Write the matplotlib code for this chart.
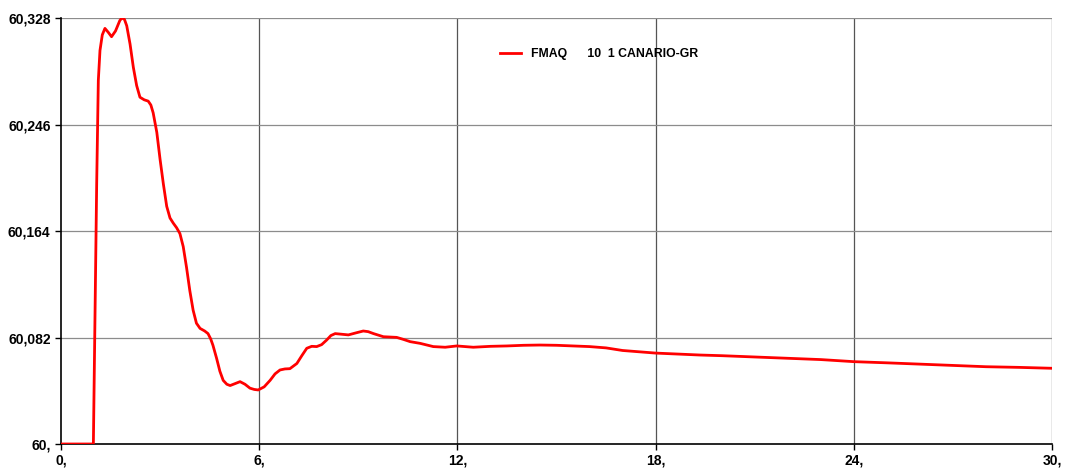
import matplotlib.pyplot as plt

plt.rcParams['font.family'] = ['Liberation Sans', 'DejaVu Sans']
plt.rcParams['font.weight'] = 'bold'

# Frequency trace (s, Hz)
t = [0.0, 0.98, 1.04, 1.08, 1.13, 1.18, 1.25, 1.33, 1.43, 1.53, 1.65, 1.78, 1.84,
     1.92, 1.99, 2.09, 2.19, 2.29, 2.39, 2.52, 2.64, 2.72, 2.79, 2.90, 3.0, 3.1,
     3.2, 3.3, 3.4, 3.5, 3.6, 3.7, 3.8, 3.9, 4.0, 4.1, 4.21, 4.35, 4.45, 4.53,
     4.6, 4.71, 4.81, 4.91, 5.02, 5.12, 5.27, 5.42, 5.57, 5.72, 5.85, 5.97, 6.15,
     6.33, 6.48, 6.63, 6.78, 6.93, 7.14, 7.29, 7.44, 7.59, 7.74, 7.89, 8.04, 8.17,
     8.30, 8.50, 8.70, 8.92, 9.15, 9.30, 9.46, 9.76, 10.16, 10.37, 10.57, 10.87,
     11.27, 11.63, 11.98, 12.48, 13.0, 13.5, 14.0, 14.5, 15.0, 15.5, 16.0, 16.5,
     17.0, 17.5, 18.0, 19.35, 20.0, 21.0, 22.0, 23.0, 24.0, 25.0, 26.0, 27.0, 28.0,
     29.0, 30.0]
freq = [60.0, 60.0, 60.120, 60.200, 60.280, 60.303, 60.315, 60.320, 60.317, 60.3136,
        60.318, 60.326, 60.328, 60.327, 60.322, 60.308, 60.290, 60.276, 60.267,
        60.265, 60.264, 60.261, 60.255, 60.240, 60.219, 60.200, 60.183, 60.174,
        60.170, 60.1665, 60.162, 60.152, 60.136, 60.118, 60.103, 60.093, 60.089,
        60.087, 60.085, 60.081, 60.076, 60.066, 60.056, 60.049, 60.046, 60.045,
        60.0465, 60.048, 60.046, 60.043, 60.042, 60.0416, 60.044, 60.049, 60.054,
        60.057, 60.0578, 60.058, 60.062, 60.068, 60.0737, 60.0752, 60.075, 60.0765,
        60.080, 60.0835, 60.085, 60.0845, 60.084, 60.0855, 60.087, 60.0865, 60.085,
        60.0826, 60.0821, 60.0805, 60.0788, 60.0775, 60.075, 60.0745, 60.0755,
        60.0745, 60.0752, 60.0755, 60.076, 60.0762, 60.076, 60.0755, 60.075, 60.074,
        60.072, 60.071, 60.070, 60.0685, 60.068, 60.067, 60.066, 60.065, 60.0634,
        60.0625, 60.0615, 60.0605, 60.0595, 60.059, 60.0583]

xticks = [0, 6, 12, 18, 24, 30]
xlabels = ['0,', '6,', '12,', '18,', '24,', '30,']
yticks = [60.0, 60.082, 60.164, 60.246, 60.328]
ylabels = ['60,', '60,082', '60,164', '60,246', '60,328']

fig = plt.figure(figsize=(10.65, 4.69), dpi=100)
ax = fig.add_axes([61 / 1065, 1 - 444 / 469, 991 / 1065, 426 / 469])

ax.plot(t, freq, color='#ff0000', lw=2, label='FMAQ      10  1 CANARIO-GR', zorder=3)

ax.set_xlim(0, 30)
ax.set_ylim(60.0, 60.328)
ax.set_xticks(xticks)
ax.set_xticklabels(xlabels)
ax.set_yticks(yticks)
ax.set_yticklabels(ylabels)
ax.tick_params(labelsize=10, length=4, width=1, direction='out')
ax.tick_params(axis='x', pad=2.5)

for v in xticks[1:]:
    ax.axvline(v, color='#555555', lw=0.9, zorder=1)
for v in yticks[1:]:
    ax.axhline(v, color='#8c8c8c', lw=0.9, zorder=1)

ax.spines['top'].set_visible(False)
ax.spines['right'].set_visible(False)
ax.spines['left'].set_linewidth(1.2)
ax.spines['bottom'].set_linewidth(1.2)

ax.legend(loc='center left', bbox_to_anchor=(500 / 1065, 1 - 54 / 469),
          bbox_transform=fig.transFigure, frameon=False, fontsize=8.8,
          handlelength=1.7, handletextpad=0.8, borderaxespad=0, borderpad=0)

fig.savefig('out.png', dpi=100)
